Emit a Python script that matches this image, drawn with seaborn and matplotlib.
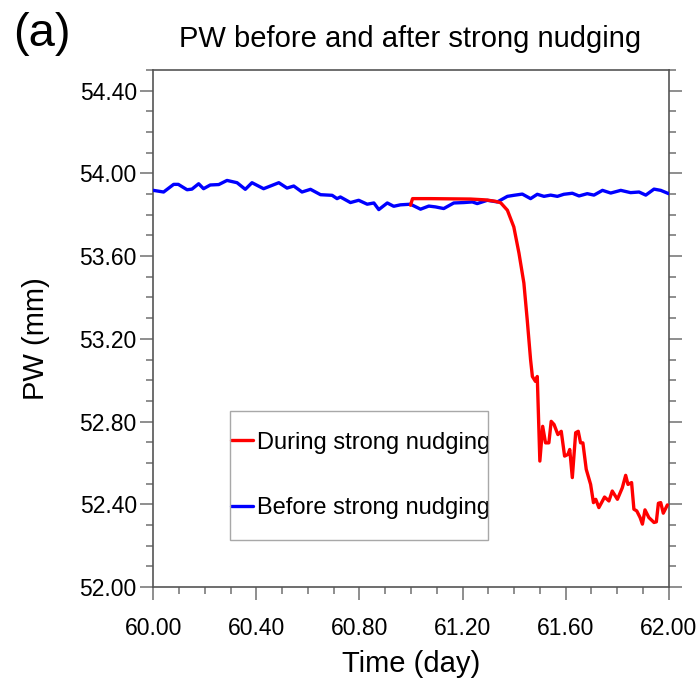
import matplotlib
matplotlib.use("Agg")
import matplotlib.pyplot as plt
import seaborn as sns
from matplotlib.ticker import MultipleLocator, FormatStrFormatter
from matplotlib.patches import Rectangle

# Precipitable water (mm) before strong nudging
before_day = [60.000, 60.040, 60.079, 60.097, 60.131, 60.150, 60.176, 60.195, 60.221,
              60.254, 60.286, 60.325, 60.357, 60.383, 60.428, 60.487, 60.519, 60.545,
              60.577, 60.610, 60.649, 60.694, 60.713, 60.726, 60.765, 60.797, 60.830,
              60.856, 60.875, 60.908, 60.933, 60.959, 60.998, 61.037, 61.069, 61.095,
              61.127, 61.166, 61.205, 61.238, 61.257, 61.296, 61.335, 61.374, 61.399,
              61.432, 61.464, 61.490, 61.516, 61.542, 61.568, 61.593, 61.626, 61.652,
              61.684, 61.710, 61.743, 61.775, 61.814, 61.852, 61.885, 61.911, 61.943,
              61.969, 62.000]
before_pw = [53.918, 53.910, 53.947, 53.947, 53.921, 53.924, 53.950, 53.926, 53.944,
             53.946, 53.966, 53.955, 53.923, 53.955, 53.926, 53.955, 53.929, 53.939,
             53.910, 53.923, 53.897, 53.894, 53.878, 53.886, 53.859, 53.870, 53.851,
             53.857, 53.825, 53.857, 53.841, 53.848, 53.851, 53.827, 53.842, 53.838,
             53.830, 53.857, 53.859, 53.862, 53.854, 53.870, 53.862, 53.889, 53.894,
             53.900, 53.878, 53.899, 53.889, 53.895, 53.889, 53.899, 53.904, 53.891,
             53.902, 53.895, 53.918, 53.905, 53.918, 53.907, 53.910, 53.895, 53.924,
             53.918, 53.902]

# Precipitable water (mm) during strong nudging
during_day = [60.998, 61.006, 61.076, 61.153, 61.231, 61.289, 61.328, 61.348, 61.374,
              61.399, 61.419, 61.438, 61.451, 61.464, 61.471, 61.483, 61.490, 61.500,
              61.511, 61.522, 61.535, 61.544, 61.555, 61.570, 61.583, 61.596, 61.609,
              61.616, 61.626, 61.639, 61.649, 61.658, 61.667, 61.680, 61.697, 61.708,
              61.717, 61.729, 61.743, 61.751, 61.768, 61.781, 61.801, 61.820, 61.833,
              61.842, 61.856, 61.865, 61.876, 61.889, 61.898, 61.908, 61.923, 61.943,
              61.952, 61.960, 61.969, 61.979, 61.995]
during_pw = [53.846, 53.878, 53.878, 53.877, 53.876, 53.872, 53.865, 53.858, 53.822,
             53.741, 53.614, 53.470, 53.292, 53.099, 53.018, 52.994, 53.018, 52.609,
             52.777, 52.697, 52.697, 52.801, 52.786, 52.737, 52.753, 52.633, 52.641,
             52.665, 52.529, 52.746, 52.753, 52.697, 52.697, 52.569, 52.496, 52.408,
             52.424, 52.384, 52.416, 52.435, 52.416, 52.464, 52.424, 52.480, 52.540,
             52.496, 52.505, 52.376, 52.368, 52.336, 52.304, 52.373, 52.336, 52.312,
             52.315, 52.405, 52.408, 52.357, 52.397]

label_during = "During strong nudging"
label_before = "Before strong nudging"

sns.set_style("ticks")
plt.rcParams["font.family"] = ["Liberation Sans", "DejaVu Sans"]
plt.rcParams["text.color"] = "black"
plt.rcParams["axes.labelcolor"] = "black"

W, H = 700, 679
fig = plt.figure(figsize=(W / 100, H / 100), dpi=100)
fig.patch.set_facecolor("white")
left, right, top, bottom = 153.3, 668.7, 70.0, 587.0
ax = fig.add_axes([left / W, 1 - bottom / H, (right - left) / W, (bottom - top) / H])

sns.lineplot(x=before_day, y=before_pw, ax=ax, color="#0000ff", lw=2.4,
             label=label_before, zorder=3)
sns.lineplot(x=during_day, y=during_pw, ax=ax, color="#ff0000", lw=2.4,
             label=label_during, zorder=4)

ax.set_xlim(60, 62)
ax.set_ylim(52, 54.5)
ax.xaxis.set_major_locator(MultipleLocator(0.4))
ax.xaxis.set_minor_locator(MultipleLocator(0.1))
ax.yaxis.set_major_locator(MultipleLocator(0.4))
ax.yaxis.set_minor_locator(MultipleLocator(0.1))
ax.xaxis.set_major_formatter(FormatStrFormatter("%.2f"))
ax.yaxis.set_major_formatter(FormatStrFormatter("%.2f"))

ax.tick_params(which="both", direction="out", top=False, right=True,
               labelright=False, color="#707070", width=1.1, labelcolor="black")
ax.tick_params(which="major", length=9.4, labelsize=16.5, pad=2.5)
ax.tick_params(axis="x", which="major", pad=12.5)
ax.tick_params(which="minor", length=4.7)
for s in ax.spines.values():
    s.set_color("#555555")
    s.set_linewidth(1.2)

ax.set_xlabel("Time (day)", fontsize=21, color="black")
ax.set_ylabel("PW (mm)", fontsize=21, color="black")
ax.xaxis.set_label_coords(0.5, -(650 - bottom) / (bottom - top))
ax.yaxis.set_label_coords(-(153.3 - 50) / (right - left), (bottom - 339) / (bottom - top))

fig.text(410.5 / W, 1 - 39 / H, "PW before and after strong nudging",
         ha="center", va="center", fontsize=21, color="black")
fig.text(13 / W, 1 - 34 / H, "(a)", ha="left", va="center", fontsize=34, color="black")

handles, labels = ax.get_legend_handles_labels()
order = [labels.index(label_during), labels.index(label_before)]
leg = ax.legend([handles[i] for i in order], [labels[i] for i in order],
                loc="center left", bbox_to_anchor=(231 / W, 1 - 475.5 / H),
                bbox_transform=fig.transFigure, frameon=False, borderpad=0,
                borderaxespad=0, fontsize=17, handlelength=0.93, handletextpad=0.17,
                labelspacing=1.85)
for t in leg.get_texts():
    t.set_color("black")
fig.add_artist(Rectangle((230 / W, 1 - 540 / H), 258 / W, 129 / H,
                         transform=fig.transFigure, fill=False,
                         edgecolor="#a8a8a8", lw=1.0))

fig.savefig("out.png", dpi=100, facecolor="white")
